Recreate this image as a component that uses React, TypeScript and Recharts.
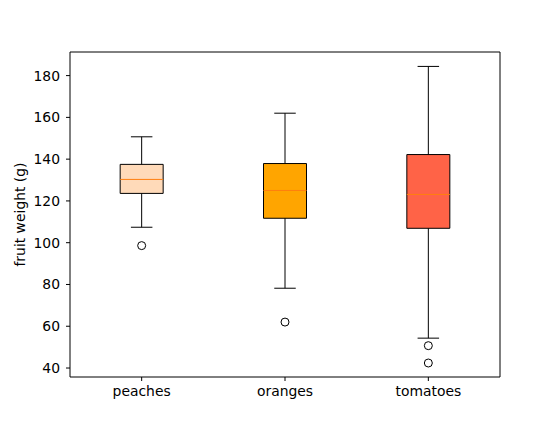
import { ComposedChart, XAxis, YAxis, ReferenceArea, ReferenceLine, Scatter } from "recharts";

const fruits = ["peaches", "oranges", "tomatoes"];
const whiskerLow = [107.4, 78.2, 54.3];
const q1 = [123.6, 111.7, 106.9];
const median = [130.3, 125.0, 123.1];
const q3 = [137.5, 137.9, 142.2];
const whiskerHigh = [150.7, 162.0, 184.4];
const outliers = [[98.6], [62.0], [50.7, 42.4]];
const yTicks = [40, 60, 80, 100, 120, 140, 160, 180];
const boxColors = ["#ffdab9", "#ffa500", "#ff6347"];

const BOX_HALF = 0.15;
const CAP_HALF = 0.075;
const FONT = "'DejaVu Sans', sans-serif";
const FS = 13.9;

const outlierPoints = outliers.flatMap((arr, i) => arr.map((y) => ({ x: i + 1, y })));

function Ring(props: any) {
  const { cx, cy } = props;
  return <circle cx={cx} cy={cy} r={4} fill="none" stroke="#000" strokeWidth={1} />;
}

function YLabel(props: any) {
  const vb = props.viewBox || {};
  const x = 20;
  const y = vb.y + vb.height / 2;
  return (
    <text x={x} y={y} transform={`rotate(-90 ${x} ${y})`} textAnchor="middle" dominantBaseline="central" fontSize={FS} fontFamily={FONT} fill="#000">
      fruit weight (g)
    </text>
  );
}

export default function App() {
  return (
    <div style={{ position: "absolute", left: 0, top: 0, width: 556, height: 424, background: "#fff" }}>
      <ComposedChart width={556} height={424} margin={{ top: 52, right: 56, bottom: 17, left: 0 }}>
        <XAxis
          type="number"
          dataKey="x"
          domain={[0.5, 3.5]}
          allowDataOverflow
          ticks={[1, 2, 3]}
          tickFormatter={(v: number) => fruits[v - 1]}
          height={30}
          axisLine={false}
          tickSize={4}
          tickMargin={5}
          stroke="#000"
          tick={{ fill: "#000", fontSize: FS, fontFamily: FONT }}
        />
        <YAxis
          type="number"
          dataKey="y"
          domain={[35.7, 191.3]}
          allowDataOverflow
          ticks={yTicks}
          width={70}
          axisLine={false}
          tickSize={4}
          tickMargin={6}
          stroke="#000"
          tick={{ fill: "#000", fontSize: FS, fontFamily: FONT }}
          label={<YLabel />}
        />
        <ReferenceArea x1={0.5} x2={3.5} y1={35.7} y2={191.3} fill="none" fillOpacity={0} stroke="#000" strokeWidth={1} />
        {fruits.map((f, i) => {
          const c = i + 1;
          return [
            <ReferenceLine key={`wl${f}`} segment={[{ x: c, y: whiskerLow[i] }, { x: c, y: q1[i] }]} stroke="#000" strokeWidth={1} />,
            <ReferenceLine key={`wh${f}`} segment={[{ x: c, y: q3[i] }, { x: c, y: whiskerHigh[i] }]} stroke="#000" strokeWidth={1} />,
            <ReferenceLine key={`cl${f}`} segment={[{ x: c - CAP_HALF, y: whiskerLow[i] }, { x: c + CAP_HALF, y: whiskerLow[i] }]} stroke="#000" strokeWidth={1} />,
            <ReferenceLine key={`ch${f}`} segment={[{ x: c - CAP_HALF, y: whiskerHigh[i] }, { x: c + CAP_HALF, y: whiskerHigh[i] }]} stroke="#000" strokeWidth={1} />,
            <ReferenceArea key={`b${f}`} x1={c - BOX_HALF} x2={c + BOX_HALF} y1={q1[i]} y2={q3[i]} fill={boxColors[i]} fillOpacity={1} stroke="#000" strokeWidth={1} />,
            <ReferenceLine key={`m${f}`} segment={[{ x: c - BOX_HALF, y: median[i] }, { x: c + BOX_HALF, y: median[i] }]} stroke="#ff7f0e" strokeWidth={1} />,
          ];
        })}
        <Scatter data={outlierPoints} dataKey="y" shape={<Ring />} isAnimationActive={false} />
      </ComposedChart>
    </div>
  );
}
